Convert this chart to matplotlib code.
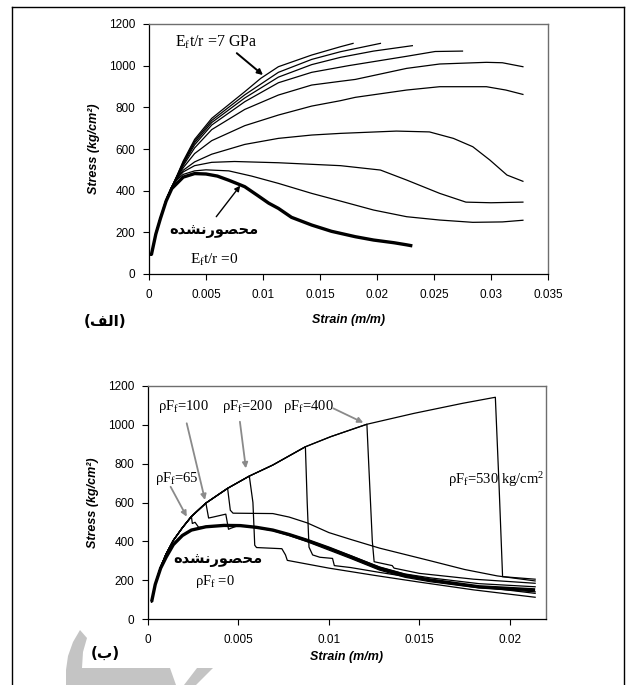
import numpy as np
import matplotlib
matplotlib.use('Agg')
import matplotlib.pyplot as plt
from matplotlib.ticker import FuncFormatter
from matplotlib.lines import Line2D
from matplotlib.patches import Polygon

plt.rcParams['font.family'] = ['Liberation Sans', 'DejaVu Sans']
plt.rcParams['mathtext.fontset'] = 'custom'
plt.rcParams['mathtext.rm'] = 'Liberation Serif'
plt.rcParams['mathtext.it'] = 'Liberation Serif:italic'

# Persian words, shaped by hand (presentation forms, visual order)
unconfined_fa = '\uFEE9\uFEAA\uFEB8\uFEE7\uFEAD\uFEEE\uFEBC\uFEA4\uFEE3'
label_a = '(\uFED2\uFEDF\uFE8D)'
label_b = '(\uFE8F)'

# ---- panel (a): stress-strain for several Ef t/r ----
rise_s = [0.0002, 0.0006, 0.001, 0.0015, 0.002]
rise_f = [90, 195, 270, 355, 418]

curves_a = [
    ([0.0025, 0.003, 0.004, 0.005, 0.007, 0.009, 0.01135, 0.01427, 0.0168, 0.0197, 0.0226, 0.0255, 0.0284, 0.031, 0.0328],
     [455, 478, 495, 500, 495, 470, 435, 387, 350, 307, 275, 259, 248, 250, 258]),
    ([0.0025, 0.003, 0.004, 0.0055, 0.0075, 0.01135, 0.0168, 0.0203, 0.0226, 0.0255, 0.0278, 0.03, 0.0328],
     [460, 490, 520, 536, 540, 534, 520, 499, 451, 387, 345, 342, 345]),
    ([0.0025, 0.003, 0.004, 0.0055, 0.0084, 0.01135, 0.01427, 0.0168, 0.0217, 0.0246, 0.0267, 0.0284, 0.0299, 0.0314, 0.0328],
     [463, 498, 538, 575, 622, 651, 667, 675, 686, 682, 651, 611, 547, 475, 445]),
    ([0.0025, 0.003, 0.004, 0.0055, 0.0084, 0.01135, 0.01427, 0.0168, 0.0181, 0.0226, 0.0255, 0.0296, 0.0313, 0.0328],
     [466, 510, 578, 640, 712, 763, 806, 832, 848, 883, 899, 899, 883, 862]),
    ([0.0025, 0.003, 0.004, 0.0055, 0.0084, 0.01135, 0.01427, 0.0168, 0.0181, 0.0226, 0.0255, 0.0296, 0.031, 0.0328],
     [469, 520, 605, 693, 790, 859, 907, 925, 934, 987, 1008, 1016, 1014, 995]),
    ([0.0025, 0.003, 0.004, 0.0055, 0.0084, 0.01135, 0.01427, 0.0175, 0.0226, 0.0251, 0.0275],
     [472, 527, 620, 715, 827, 918, 968, 1000, 1045, 1068, 1070]),
    ([0.0025, 0.003, 0.004, 0.0055, 0.0084, 0.01135, 0.01427, 0.0168, 0.0197, 0.0231],
     [474, 532, 630, 727, 845, 945, 1005, 1040, 1070, 1096]),
    ([0.0025, 0.003, 0.004, 0.0055, 0.0084, 0.01135, 0.01427, 0.0168, 0.0203],
     [476, 537, 638, 737, 860, 968, 1030, 1067, 1107]),
    ([0.0025, 0.003, 0.004, 0.0055, 0.0084, 0.0098, 0.01135, 0.01427, 0.0168, 0.0179],
     [478, 542, 646, 747, 875, 939, 995, 1051, 1091, 1107]),
]

bold_a_s = [0.0002, 0.0006, 0.001, 0.0015, 0.002, 0.003, 0.004, 0.005, 0.006, 0.007, 0.008, 0.0084,
            0.0095, 0.0105, 0.01135, 0.0125, 0.01427, 0.016, 0.0181, 0.0197, 0.0215, 0.0226, 0.0231]
bold_a_f = [90, 192, 266, 350, 410, 465, 482, 480, 470, 450, 428, 419,
            378, 340, 315, 272, 235, 205, 179, 163, 150, 140, 135]

# ---- panel (b): stress-strain for several rho*Ff ----
env_s = [0.0002, 0.0004, 0.0007, 0.001, 0.0014, 0.0019, 0.0024, 0.0032, 0.0044, 0.0056,
         0.0069, 0.0087, 0.0101, 0.0121, 0.0147, 0.0174, 0.0192]
env_f = [89, 180, 268, 335, 405, 470, 528, 597, 673, 736,
         793, 887, 939, 1003, 1059, 1111, 1142]

# (last envelope index, post-peak strains, post-peak stresses)
curves_b = [
    (6, [0.00245, 0.0026, 0.0028, 0.0032, 0.0042, 0.0051, 0.006, 0.0069, 0.0078, 0.0088, 0.01, 0.0112, 0.0128, 0.0142, 0.0156, 0.0183, 0.0214],
        [492, 498, 472, 476, 483, 482, 473, 459, 437, 408, 368, 326, 268, 232, 212, 182, 166]),
    (7, [0.00335, 0.0036, 0.0043, 0.00445, 0.0046, 0.0049, 0.0051, 0.006, 0.0069, 0.0078, 0.0088, 0.01, 0.0112, 0.0128, 0.0142, 0.0156, 0.0183, 0.0214],
        [520, 525, 540, 462, 468, 478, 480, 470, 455, 430, 398, 355, 312, 252, 215, 192, 160, 140]),
    (8, [0.00455, 0.0047, 0.0069, 0.0078, 0.0088, 0.01, 0.0112, 0.0128, 0.0156, 0.0175, 0.0193, 0.0214],
        [560, 545, 543, 525, 495, 445, 410, 365, 300, 255, 222, 196]),
    (9, [0.0058, 0.0059, 0.006, 0.0074, 0.0076, 0.0077, 0.01, 0.0125, 0.015, 0.018, 0.0214],
        [600, 380, 368, 362, 330, 302, 262, 225, 190, 150, 112]),
    (11, [0.0088, 0.0089, 0.0091, 0.0095, 0.0102, 0.0103, 0.0112, 0.0128, 0.015, 0.018, 0.0214],
         [600, 370, 330, 318, 312, 275, 265, 240, 208, 170, 132]),
    (13, [0.0122, 0.0124, 0.0125, 0.0135, 0.0136, 0.015, 0.018, 0.0214],
         [800, 400, 295, 275, 262, 235, 205, 184]),
    (16, [0.0194, 0.0196, 0.0214],
         [700, 218, 205]),
]

bold_b_s = [0.0002, 0.0004, 0.0007, 0.001, 0.0014, 0.0019, 0.0024, 0.0032, 0.0042, 0.0051, 0.006,
            0.0069, 0.0078, 0.0088, 0.01, 0.0112, 0.0128, 0.0142, 0.0156, 0.0183, 0.0214]
bold_b_f = [89, 178, 262, 318, 383, 430, 458, 475, 482, 481, 472,
            458, 435, 405, 365, 321, 261, 225, 201, 166, 150]

fig = plt.figure(figsize=(6.35, 6.85), dpi=100)

num_fmt = FuncFormatter(lambda v, p: '%g' % round(v, 4))


def style_axes(ax, xmax, xstep, xlabelpad):
    ax.set_xlim(0, xmax)
    ax.set_ylim(0, 1200)
    ax.set_xticks(np.arange(0, xmax + 1e-9, xstep))
    ax.set_yticks(np.arange(0, 1201, 200))
    ax.xaxis.set_major_formatter(num_fmt)
    ax.tick_params(direction='out', length=4, width=0.8, labelsize=8.5)
    ax.tick_params(axis='x', pad=6.5)
    ax.tick_params(axis='y', pad=6)
    for side in ['left', 'bottom']:
        ax.spines[side].set_linewidth(0.9)
        ax.spines[side].set_color('black')
    for side in ['top', 'right']:
        ax.spines[side].set_linewidth(1.0)
        ax.spines[side].set_color('#6e6e6e')
    ax.set_xlabel('Strain (m/m)', fontsize=9, fontweight='bold', fontstyle='italic', labelpad=xlabelpad)
    ax.set_ylabel('Stress (kg/cm\u00b2)', fontsize=9, fontweight='bold', fontstyle='italic', labelpad=6)


serif = 'Liberation Serif'

# panel (a)
ax1 = fig.add_axes([149 / 635, 1 - 274 / 685, 399 / 635, 250 / 685])
for s, f in curves_a:
    ax1.plot(rise_s + s, rise_f + f, color='black', lw=0.9)
ax1.plot(bold_a_s, bold_a_f, color='black', lw=2.4, solid_capstyle='butt')
style_axes(ax1, 0.035, 0.005, 10)

ax1.text(0.0023, 1114, r'E$_\mathrm{f}$t/r =7 GPa', fontsize=11.5, family=serif,
         ha='left', va='center')
ax1.annotate('', xy=(0.0100, 955), xytext=(0.0077, 1060),
             arrowprops=dict(arrowstyle='-|>', color='black', lw=1.4, mutation_scale=8,
                             shrinkA=0, shrinkB=0))
ax1.text(0.0036, 67, r'E$_\mathrm{f}$t/r =0', fontsize=11, family=serif,
         ha='left', va='center')
ax1.text(0.0057, 211, unconfined_fa, fontsize=10.5, family='DejaVu Sans', fontweight='bold',
         ha='center', va='center')
ax1.annotate('', xy=(0.0080, 424), xytext=(0.0059, 275),
             arrowprops=dict(arrowstyle='-|>', color='black', lw=1.0, mutation_scale=8,
                             shrinkA=0, shrinkB=0))
fig.text(105 / 635, 1 - 322 / 685, label_a, fontsize=11, family='DejaVu Sans', fontweight='bold',
         ha='center', va='center')

# panel (b)
ax2 = fig.add_axes([148 / 635, 1 - 619 / 685, 398 / 635, 233 / 685])
for k, s, f in curves_b:
    ax2.plot(env_s[:k + 1] + s, env_f[:k + 1] + f, color='black', lw=0.9)
ax2.plot(bold_b_s, bold_b_f, color='black', lw=2.4, solid_capstyle='butt')
style_axes(ax2, 0.022, 0.005, 4)

grey = '#8a8a8a'
notes_b = [
    ('\u03c1F$_\\mathrm{f}$=100', 0.00055, 1093, (0.00214, 1008), (0.00315, 613)),
    ('\u03c1F$_\\mathrm{f}$=200', 0.00407, 1093, (0.00508, 1016), (0.00541, 776)),
    ('\u03c1F$_\\mathrm{f}$=400', 0.00748, 1093, (0.01024, 1085), (0.0119, 1011)),
    ('\u03c1F$_\\mathrm{f}$=65', 0.00039, 724, (0.00125, 681), (0.00214, 527)),
]
for txt, tx, ty, tail, head in notes_b:
    ax2.text(tx, ty, txt, fontsize=10.5, family=serif, ha='left', va='center')
    ax2.annotate('', xy=head, xytext=tail,
                 arrowprops=dict(arrowstyle='-|>', color=grey, lw=1.3, mutation_scale=8,
                                 shrinkA=0, shrinkB=0))
ax2.text(0.0026, 192, '\u03c1F$_\\mathrm{f}$ =0', fontsize=10.5, family=serif, ha='left', va='center')
ax2.text(0.0166, 716, '\u03c1F$_\\mathrm{f}$=530 kg/cm$^2$', fontsize=10.5, family=serif,
         ha='left', va='center')
ax2.text(0.00385, 304, unconfined_fa, fontsize=10.5, family='DejaVu Sans', fontweight='bold',
         ha='center', va='center')
fig.text(105 / 635, 1 - 653 / 685, label_b, fontsize=11, family='DejaVu Sans', fontweight='bold',
         ha='center', va='center')

# page frame
W, H = 635, 685
def fx(px):
    return px / W
def fy(py):
    return 1 - py / H
fig.add_artist(Line2D([fx(12), fx(12)], [fy(7), 0], color='black', lw=1.0))
fig.add_artist(Line2D([fx(12), fx(624)], [fy(7), fy(7)], color='black', lw=1.0))
fig.add_artist(Line2D([fx(624), fx(624)], [fy(7), 0], color='black', lw=1.0))

# grey watermark fragment at the bottom
wm = '#c4c4c4'
crescent = [(80, 630), (73, 642), (68, 656), (66, 670), (66, 685), (82, 685), (82, 668),
            (83, 652), (87, 638)]
band = [(82, 668), (170, 668), (176, 685), (82, 685)]
wedge = [(197, 668), (213, 668), (196, 685), (184, 685)]
for poly in (crescent, band, wedge):
    fig.add_artist(Polygon([(fx(a), fy(b)) for a, b in poly], closed=True,
                           transform=fig.transFigure, facecolor=wm, edgecolor='none'))

fig.savefig('out.png', dpi=100)
